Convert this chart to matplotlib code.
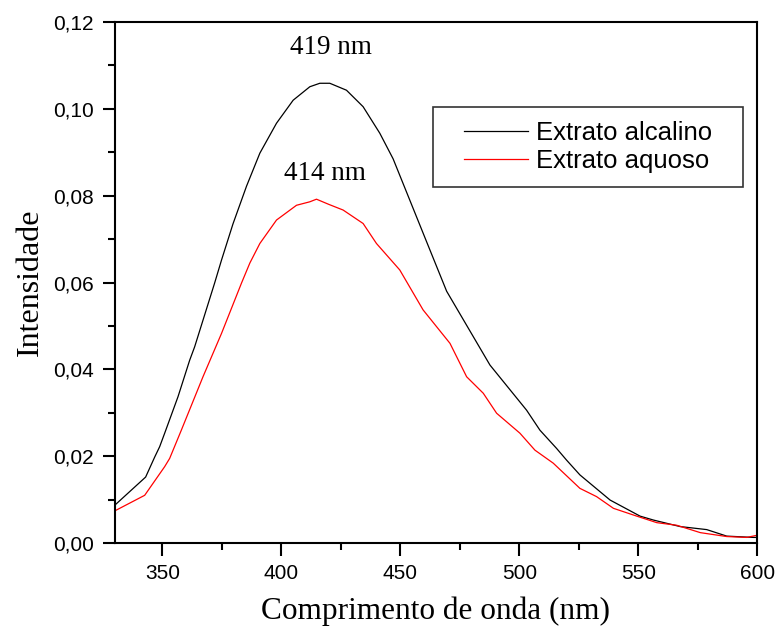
import matplotlib
matplotlib.use("Agg")
import matplotlib.pyplot as plt
from matplotlib.ticker import MultipleLocator, FuncFormatter
from matplotlib.patches import Rectangle

# Wavelength (nm) / intensity
alc_x = [330, 343, 346.8, 348.9, 351, 356.6, 361.5, 363.6, 372, 374.9, 379.7, 385.4, 391, 398,
         405, 412, 416.2, 420.4, 427.4, 434.4, 441.4, 447, 454, 461, 469.5, 487.7, 503.1,
         508.7, 515.7, 519.9, 525.5, 538.2, 550.8, 556.4, 567.6, 578.8, 587.2, 598.4, 600]
alc_y = [0.0087, 0.0152, 0.0198, 0.0222, 0.0253, 0.0337, 0.0421, 0.0452, 0.0599, 0.0652, 0.0735, 0.0822, 0.0898, 0.0967,
         0.1020, 0.1051, 0.1059, 0.1059, 0.1043, 0.1005, 0.0944, 0.0885, 0.0790, 0.0695, 0.0580, 0.0410, 0.0306,
         0.0260, 0.0218, 0.0191, 0.0157, 0.0099, 0.0062, 0.0053, 0.0038, 0.0031, 0.0016, 0.0013, 0.0013]

aq_x = [330, 342.6, 351, 353.1, 358, 367.1, 374.9, 383.3, 386.8, 391, 398, 406.4, 412, 414.8, 420,
        426, 434.4, 440, 449.8, 459.6, 470.9, 477.9, 484.9, 490.5, 500.3, 506.6, 514.3, 525.5,
        532.5, 539.6, 549.4, 557.8, 566.2, 576.1, 587.2, 595.6, 600]
aq_y = [0.0074, 0.0110, 0.0176, 0.0195, 0.0260, 0.0383, 0.0483, 0.0599, 0.0645, 0.0690, 0.0744, 0.0778, 0.0786, 0.0792, 0.0780,
        0.0767, 0.0736, 0.0690, 0.0629, 0.0537, 0.0460, 0.0383, 0.0345, 0.0299, 0.0253, 0.0214, 0.0184, 0.0126,
        0.0107, 0.0080, 0.0062, 0.0047, 0.0041, 0.0024, 0.0015, 0.0013, 0.0018]

labels = ["Extrato alcalino", "Extrato aquoso"]
peak_labels = ["419 nm", "414 nm"]

fig = plt.figure(figsize=(7.75, 6.3), dpi=100)
ax = fig.add_axes([0.148, 0.138, 0.829, 0.827])

ax.plot(alc_x, alc_y, color="black", lw=0.9, label=labels[0])
ax.plot(aq_x, aq_y, color="red", lw=0.9, label=labels[1])

ax.set_xlim(330, 600)
ax.set_ylim(0, 0.12)
ax.xaxis.set_major_locator(MultipleLocator(50))
ax.xaxis.set_minor_locator(MultipleLocator(25))
ax.yaxis.set_major_locator(MultipleLocator(0.02))
ax.yaxis.set_minor_locator(MultipleLocator(0.01))
ax.yaxis.set_major_formatter(FuncFormatter(lambda v, p: f"{v:.2f}".replace(".", ",")))
ax.tick_params(which="major", direction="out", length=9, width=1.5, labelsize=15,
               top=False, right=False, pad=6)
ax.tick_params(which="minor", direction="out", length=5, width=1.5, top=False, right=False)
for lab in ax.get_xticklabels() + ax.get_yticklabels():
    lab.set_fontfamily("Liberation Sans")
for s in ax.spines.values():
    s.set_linewidth(1.5)

ax.set_xlabel("Comprimento de onda (nm)", fontfamily="Liberation Serif", fontsize=22.5, labelpad=10)
ax.set_ylabel("Intensidade", fontfamily="Liberation Serif", fontsize=23, labelpad=6)

ax.text(420.8, 0.1142, peak_labels[0], fontfamily="Liberation Serif", fontsize=19.5, ha="center", va="center")
ax.text(418.3, 0.0852, peak_labels[1], fontfamily="Liberation Serif", fontsize=19.5, ha="center", va="center")

leg = ax.legend(loc="center", bbox_to_anchor=(0.737, 0.760), frameon=False,
                prop={"family": "Liberation Sans", "size": 18.5},
                handlelength=2.5, borderpad=0.2, labelspacing=0.15, handletextpad=0.3)
ax.add_patch(Rectangle((0.495, 0.683), 0.483, 0.154, transform=ax.transAxes,
                       fill=False, edgecolor="#333333", lw=1.2, zorder=5))

fig.savefig("out.png", dpi=100)
